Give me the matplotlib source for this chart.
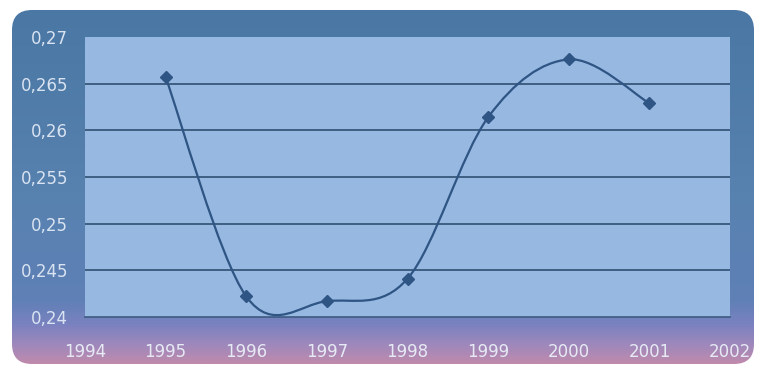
import numpy as np
import matplotlib
matplotlib.use("Agg")
from matplotlib import pyplot as plt
from matplotlib.patches import FancyBboxPatch, PathPatch
from matplotlib.path import Path
from matplotlib.colors import LinearSegmentedColormap

# data
years = [1995, 1996, 1997, 1998, 1999, 2000, 2001]
values = [0.2657, 0.2422, 0.2417, 0.2441, 0.2614, 0.2676, 0.2629]
xticks = [1994, 1995, 1996, 1997, 1998, 1999, 2000, 2001, 2002]
yticks = [0.24, 0.245, 0.25, 0.255, 0.26, 0.265, 0.27]
ylabels = ["0,24", "0,245", "0,25", "0,255", "0,26", "0,265", "0,27"]

W, H = 757, 366
fig = plt.figure(figsize=(W / 100, H / 100), dpi=100)
fig.patch.set_facecolor("white")

# background panel with gradient, rounded corners
bg = fig.add_axes([0, 0, 1, 1])
bg.set_xlim(0, W)
bg.set_ylim(H, 0)
bg.axis("off")
cmap = LinearSegmentedColormap.from_list("panel", [
    (0.0, "#4a77a4"), (0.55, "#5882b0"), (0.82, "#5f80b6"),
    (0.89, "#7a82c0"), (0.95, "#a088bb"), (1.0, "#bf8aac")])
grad = np.linspace(0, 1, 256).reshape(-1, 1)
im = bg.imshow(grad, cmap=cmap, extent=[12, 754, 364, 10], aspect="auto")
panel = FancyBboxPatch((12, 10), 742, 354, boxstyle="round,pad=0,rounding_size=20",
                       facecolor="none", edgecolor="none", transform=bg.transData)
bg.add_patch(panel)
im.set_clip_path(panel)

ax = fig.add_axes([85 / W, 1 - 317 / H, 645 / W, 280 / H])
ax.set_facecolor("#97b8e1")
ax.set_xlim(1994, 2002)
ax.set_ylim(0.24, 0.27)

for y in yticks[1:-1]:
    ax.axhline(y, color="#2f4f72", lw=1.2, zorder=1)

# smoothed line (Excel style Bezier through the points)
xs = np.array(years, dtype=float)
ys = np.array(values)
verts = [(xs[0], ys[0])]
codes = [Path.MOVETO]
n = len(xs)
for i in range(n - 1):
    p0 = np.array([xs[max(i - 1, 0)], ys[max(i - 1, 0)]])
    p1 = np.array([xs[i], ys[i]])
    p2 = np.array([xs[i + 1], ys[i + 1]])
    p3 = np.array([xs[min(i + 2, n - 1)], ys[min(i + 2, n - 1)]])
    c1 = p1 + (p2 - p0) / 6
    c2 = p2 - (p3 - p1) / 6
    verts += [tuple(c1), tuple(c2), tuple(p2)]
    codes += [Path.CURVE4] * 3
ax.add_patch(PathPatch(Path(verts, codes), facecolor="none",
                       edgecolor="#2f5584", lw=1.6, zorder=3))
ax.plot(years, values, linestyle="none", marker="D", markersize=6,
        color="#2f5584", zorder=4)

ax.set_xticks(xticks)
ax.set_xticklabels([str(x) for x in xticks])
ax.set_yticks(yticks)
ax.set_yticklabels(ylabels)
ax.tick_params(axis="x", length=0, pad=19, labelsize=12, labelcolor="#e6eaf4")
ax.tick_params(axis="y", length=0, pad=12, labelsize=12, labelcolor="#d9e3f1")
for side in ["top", "right", "left"]:
    ax.spines[side].set_visible(False)
ax.spines["bottom"].set_color("#3d5a80")
ax.spines["bottom"].set_linewidth(1.2)

fig.savefig("out.png", dpi=100)
